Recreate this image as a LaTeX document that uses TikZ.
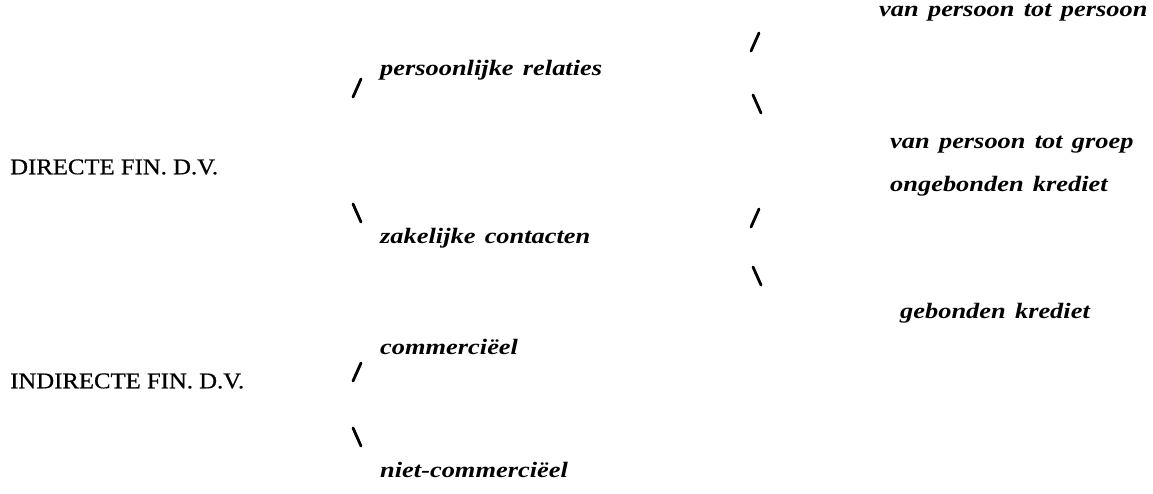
\documentclass[tikz,border=0pt]{standalone}
\usepackage{fontspec}
\setmainfont{Liberation Serif}
\newfontfamily\headfont[FakeStretch=1.1,FakeBold=0.6]{Liberation Serif}
\newfontfamily\branchfont[FakeStretch=1.2,WordSpace=1.4]{Liberation Serif}
\begin{document}
\begin{tikzpicture}[x=1pt,y=-1pt,
  head/.style={anchor=west,inner sep=0pt,font=\headfont\fontsize{22.5}{26}\selectfont},
  leaf/.style={anchor=west,inner sep=0pt,font=\branchfont\bfseries\itshape\fontsize{22}{26}\selectfont},
  tick/.style={line width=2.8pt,line cap=round},
  up/.pic={\draw[tick] (-4,9) -- (4,-9);},
  down/.pic={\draw[tick] (-4,-9) -- (4,9);}]
\useasboundingbox (0,0) rectangle (1153,493);

% main categories
\node[head] (direct)   at (10,167) {DIRECTE FIN. D.V.};
\node[head] (indirect) at (10,381) {INDIRECTE FIN. D.V.};

% first level
\node[leaf] (pers)  at (380,70)  {persoonlijke relaties};
\node[leaf] (zak)   at (380,238) {zakelijke contacten};
\node[leaf] (comm)  at (380,347) {commerciëel};
\node[leaf] (ncomm) at (380,470) {niet-commerciëel};

% second level
\node[leaf] (pp)  at (879,13)  {van persoon tot persoon};
\node[leaf] (pg)  at (890,145) {van persoon tot groep};
\node[leaf] (ong) at (890,186) {ongebonden krediet};
\node[leaf] (geb) at (900,313) {gebonden krediet};

% branch marks
\pic at (357,88)  {up};
\pic at (357,213) {down};
\pic at (357,372) {up};
\pic at (357,437) {down};
\pic at (755,42)  {up};
\pic at (757,104) {down};
\pic at (755,218) {up};
\pic at (757,276) {down};
\end{tikzpicture}
\end{document}
